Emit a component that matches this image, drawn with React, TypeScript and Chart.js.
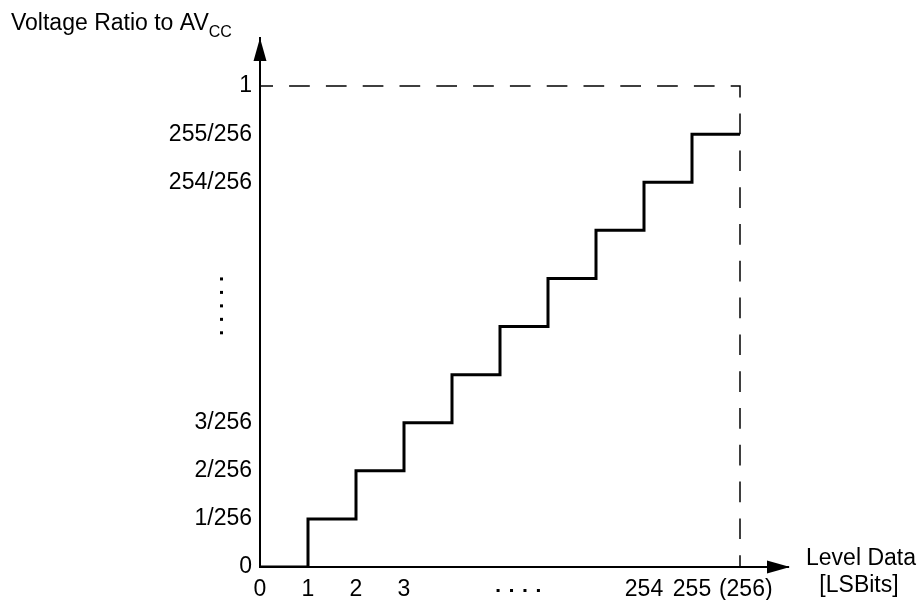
import React, { useEffect, useRef } from 'react';
import { Chart, registerables } from 'chart.js';

Chart.register(...registerables);

// Staircase of the DAC output (visual level units: one step per code shown)
const levelPositions = [0, 1, 2, 3, 4, 5, 6, 7, 8, 9, 10];
const outputLevels = [0, 1, 2, 3, 4, 5, 6, 7, 8, 9, 9];

// Full-scale reference (dashed) : ratio 1 up to code (256)
const fullScaleX = [0, 10, 10];
const fullScaleY = [10, 10, 0];

// Tick labels
const xTickValues = [0, 1, 2, 3, 8, 9, 10.12];
const xTickText = ['0', '1', '2', '3', '254', '255', '(256)'];
const yTickValues = [0, 1, 2, 3, 8, 9, 10];
const yTickText = ['0', '1/256', '2/256', '3/256', '254/256', '255/256', '1'];

// Positions (in level units) of the ellipsis dots
const yEllipsisLevels = [5.99, 5.71, 5.43, 5.15, 4.87];
const xEllipsisLevels = [4.96, 5.24, 5.52, 5.80];

const FONT = "'Liberation Sans', Arial, Helvetica, sans-serif";
const FS = 23;

const decorPlugin = {
  id: 'decor',
  afterDraw(chart: any) {
    const { ctx, scales } = chart;
    const xs = scales.x;
    const ys = scales.y;
    const x0 = xs.getPixelForValue(0);
    const y0 = ys.getPixelForValue(0);
    const xTip = xs.getPixelForValue(11);
    const yTip = ys.getPixelForValue(11);
    ctx.save();
    ctx.fillStyle = '#000';
    // arrow heads
    ctx.beginPath();
    ctx.moveTo(x0, yTip);
    ctx.lineTo(x0 - 6.5, yTip + 23);
    ctx.lineTo(x0 + 6.5, yTip + 23);
    ctx.closePath();
    ctx.fill();
    ctx.beginPath();
    ctx.moveTo(xTip + 2, y0);
    ctx.lineTo(xTip - 21, y0 - 6.5);
    ctx.lineTo(xTip - 21, y0 + 6.5);
    ctx.closePath();
    ctx.fill();

    // ellipsis dots
    for (const l of yEllipsisLevels) {
      ctx.fillRect(220, ys.getPixelForValue(l) - 1.5, 3, 3);
    }
    for (const l of xEllipsisLevels) {
      ctx.fillRect(xs.getPixelForValue(l) - 1.5, 589, 3, 3);
    }

    // axis titles
    ctx.textBaseline = 'alphabetic';
    ctx.textAlign = 'left';
    ctx.font = `${FS}px ${FONT}`;
    const main = 'Voltage Ratio to AV';
    ctx.fillText(main, 11, 30);
    const w = ctx.measureText(main).width;
    ctx.font = `16px ${FONT}`;
    ctx.fillText('CC', 11 + w, 36.5);

    ctx.font = `${FS}px ${FONT}`;
    ctx.textAlign = 'center';
    ctx.fillText('Level Data', 861, 565);
    ctx.fillText('[LSBits]', 859, 592);
    ctx.restore();
  },
};

export default function App() {
  const ref = useRef<HTMLCanvasElement | null>(null);
  useEffect(() => {
    if (!ref.current) return;
    const chart = new Chart(ref.current, {
      type: 'line',
      data: {
        datasets: [
          {
            data: levelPositions.map((x, i) => ({ x, y: outputLevels[i] })),
            borderColor: '#000',
            borderWidth: 3,
            stepped: 'before',
            pointRadius: 0,
            fill: false,
            order: 0,
          },
          {
            data: fullScaleX.map((x, i) => ({ x, y: fullScaleY[i] })),
            borderColor: '#000',
            borderWidth: 1.5,
            borderDash: [20.7, 16.1],
            borderDashOffset: 7.7,
            pointRadius: 0,
            fill: false,
            order: 1,
          },
        ],
      },
      plugins: [decorPlugin],
      options: {
        animation: false,
        responsive: true,
        maintainAspectRatio: false,
        layout: { padding: { top: 38, right: 131, bottom: 0, left: 0 } },
        plugins: { legend: { display: false }, tooltip: { enabled: false }, title: { display: false } },
        scales: {
          x: {
            type: 'linear',
            min: 0,
            max: 11,
            grid: { display: false, drawTicks: false },
            border: { display: true, color: '#000', width: 2 },
            afterFit: (s: any) => { s.height = 33; },
            afterBuildTicks: (s: any) => { s.ticks = xTickValues.map((v) => ({ value: v })); },
            ticks: {
              autoSkip: false,
              maxRotation: 0,
              padding: 9,
              color: '#000',
              font: { family: FONT, size: FS },
              callback: (v: any) => { const i = xTickValues.indexOf(Number(v)); return i >= 0 ? xTickText[i] : ''; },
            },
          },
          y: {
            type: 'linear',
            min: 0,
            max: 11,
            grid: { display: false, drawTicks: false },
            border: { display: true, color: '#000', width: 2 },
            afterFit: (s: any) => { s.width = 260; },
            afterBuildTicks: (s: any) => { s.ticks = yTickValues.map((v) => ({ value: v })); },
            ticks: {
              autoSkip: false,
              padding: 8,
              color: '#000',
              font: { family: FONT, size: FS },
              callback: (v: any) => { const i = yTickValues.indexOf(Number(v)); return i >= 0 ? yTickText[i] : ''; },
            },
          },
        },
      },
    } as any);
    return () => chart.destroy();
  }, []);
  return (
    <div style={{ position: 'fixed', left: 0, top: 0, width: 919, height: 600, background: '#fff' }}>
      <canvas ref={ref} />
    </div>
  );
}
